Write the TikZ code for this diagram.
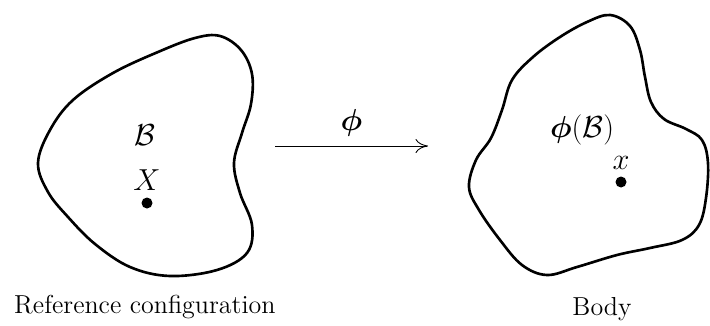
\documentclass[tikz,border=0pt]{standalone}
\usepackage{amsmath,bm}
\usetikzlibrary{arrows.meta}

\begin{document}
\begin{tikzpicture}[
    x=0.02cm, y=-0.02cm,
    every node/.style={font=\fontsize{14.8}{18}\selectfont},
    mathlabel/.style={font=\LARGE},
    blob/.style={line width=1.5pt, smooth cycle, tension=0.6},
    pointdot/.style={circle, fill=black, inner sep=0pt, minimum size=2.2mm},
    maparr/.style={-{To[length=2.5mm, width=2.8mm]}, line width=0.5pt},
]
\useasboundingbox (0,0) rectangle (710,325);

% Reference configuration
\draw[blob] plot coordinates {
    (38,163) (50,130) (73,100) (113,73) (158,52) (195,38) (220,36)
    (241,50) (252,74) (251,104) (242,133) (234,163) (240,193) (252,225)
    (247,253) (217,270) (170,276) (130,267) (95,244) (68,217) (48,192)};
\node[mathlabel] (refB) at (145,135) {$\mathcal{B}$};
\node[pointdot] (refpt) at (147,203) {};
\node[mathlabel, anchor=south] (refX) at (refpt.north) {$X$};
\node[anchor=base west] (reflabel) at (8,313) {Reference configuration};

% Body
\draw[blob] plot coordinates {
    (610,15) (630,26) (640,50) (645,77) (651,102) (664,119) (686,129)
    (702,140) (708,163) (706,198) (699,225) (682,240) (650,248)
    (617,255) (577,267) (547,275) (522,265) (500,240) (479,210)
    (469,187) (476,160) (491,138) (502,110) (512,80) (533,57)
    (560,37) (587,22)};
\node[mathlabel] (bodyB) at (582,130) {$\bm{\phi}(\mathcal{B})$};
\node[pointdot] (bodypt) at (621,182) {};
\node[mathlabel, anchor=south] (bodyx) at (bodypt.north) {$x$};
\node[anchor=base] (bodylabel) at (602,315) {Body};

% Map
\coordinate (mapstart) at (275,146);
\coordinate (mapend) at (428,146);
\draw[maparr] (mapstart) -- node[mathlabel, above=2pt] (maplabel) {$\bm{\phi}$} (mapend);

\end{tikzpicture}
\end{document}
